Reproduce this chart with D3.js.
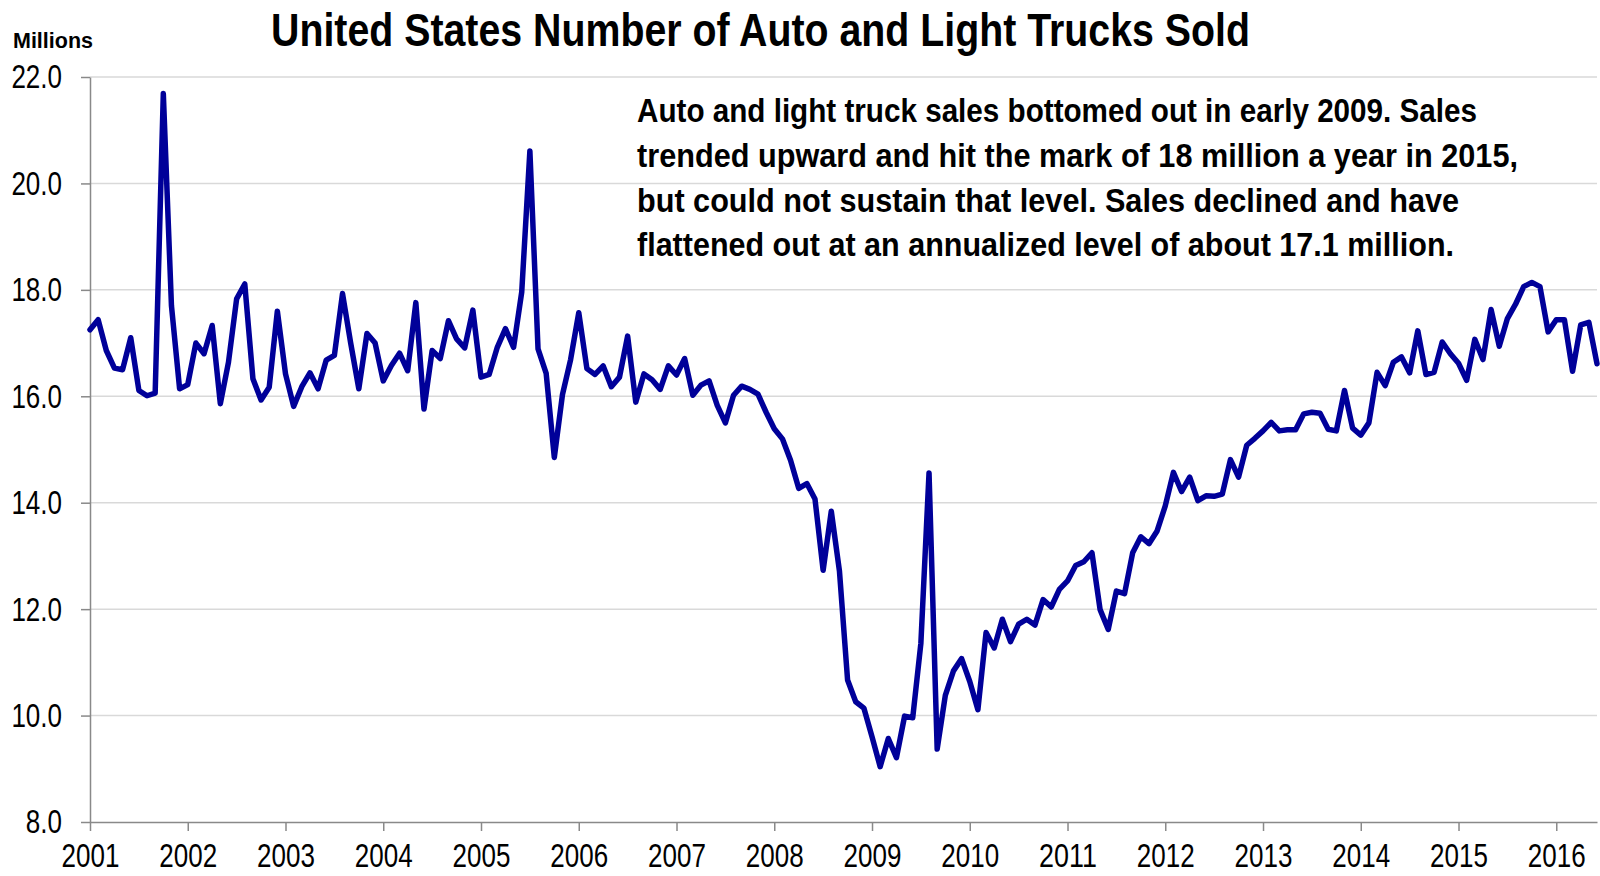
<!DOCTYPE html>
<html>
<head>
<meta charset="utf-8">
<script src="https://cdn.jsdelivr.net/npm/d3@7"></script>
<style>
  html, body { margin: 0; padding: 0; background: #fff; }
  svg { display: block; }
</style>
</head>
<body>
<svg id="chart" width="1600" height="876"></svg>
<script>
// ---- Data (millions of units, seasonally adjusted annual rate), monthly from Jan 2001 ----
const firstYear = 2001;
const firstMonth = 0; // January
const sales = [
  17.25, 17.44, 16.86, 16.53, 16.50, 17.10, 16.11, 16.01, 16.06, 21.69, 17.70, 16.14, // 2001
  16.22, 17.00, 16.80, 17.33, 15.86, 16.64, 17.83, 18.11, 16.33, 15.93, 16.17, 17.60, // 2002
  16.42, 15.81, 16.18, 16.44, 16.14, 16.68, 16.77, 17.93, 17.00, 16.14, 17.18, 17.00, // 2003
  16.29, 16.58, 16.81, 16.48, 17.76, 15.76, 16.86, 16.71, 17.42, 17.08, 16.91, 17.62, // 2004
  16.36, 16.41, 16.92, 17.27, 16.92, 17.96, 20.61, 16.89, 16.43, 14.85, 16.03, 16.69, // 2005
  17.57, 16.52, 16.41, 16.57, 16.18, 16.36, 17.13, 15.89, 16.42, 16.31, 16.13, 16.57, // 2006
  16.40, 16.71, 16.02, 16.21, 16.29, 15.83, 15.50, 16.02, 16.19, 16.13, 16.04, 15.70, // 2007
  15.39, 15.20, 14.80, 14.27, 14.36, 14.07, 12.73, 13.84, 12.72, 10.67, 10.26, 10.14, // 2008
   9.60,  9.04,  9.57,  9.21,  9.99,  9.96, 11.36, 14.56,  9.37, 10.38, 10.84, 11.07, // 2009
  10.64, 10.11, 11.56, 11.27, 11.81, 11.39, 11.72, 11.81, 11.70, 12.18, 12.04, 12.37, // 2010
  12.53, 12.82, 12.89, 13.06, 11.99, 11.62, 12.34, 12.29, 13.06, 13.36, 13.23, 13.47, // 2011
  13.94, 14.57, 14.21, 14.48, 14.04, 14.13, 14.12, 14.16, 14.81, 14.48, 15.08, 15.21, // 2012
  15.35, 15.51, 15.35, 15.37, 15.37, 15.67, 15.70, 15.68, 15.38, 15.35, 16.11, 15.40, // 2013
  15.27, 15.50, 16.45, 16.20, 16.64, 16.74, 16.44, 17.23, 16.41, 16.45, 17.02, 16.80, // 2014
  16.62, 16.30, 17.07, 16.69, 17.63, 16.94, 17.46, 17.73, 18.06, 18.14, 18.06, 17.21, // 2015
  17.44, 17.44, 16.47, 17.34, 17.39, 16.61                                            // 2016
];
const yTicks = [8, 10, 12, 14, 16, 18, 20, 22];
const xTickYears = [2001, 2002, 2003, 2004, 2005, 2006, 2007, 2008, 2009, 2010, 2011, 2012, 2013, 2014, 2015, 2016];
const titleText = "United States Number of Auto and Light Trucks Sold";
const unitLabel = "Millions";
const noteLines = [
  "Auto and light truck sales bottomed out in early 2009. Sales",
  "trended upward and hit the mark of 18 million a year in 2015,",
  "but could not sustain that level. Sales declined and have",
  "flattened out at an annualized level of about 17.1 million."
];

(function () {
  // ---- Layout ----
  const svg = d3.select("#chart");
  const plotL = 90, plotR = 1597, plotT = 77, plotB = 822;
  const FONT = "'Liberation Sans Narrow', 'Arial Narrow', 'Liberation Sans', Arial, sans-serif";
  const TICK_FS = 34;
  // condensed width of a numeric label (digits 0.556em, '.' 0.278em)
  const narrowWidth = s => 26 * s.split("").reduce((a, c) => a + (c === "." ? 0.278 : 0.556), 0);

  const points = sales.map((v, i) => ({ t: firstYear + (firstMonth + i) / 12, v }));

  const x = d3.scaleLinear()
    .domain([firstYear, points[points.length - 1].t])
    .range([plotL, plotR]);
  const y = d3.scaleLinear().domain([8, 22]).range([plotB, plotT]);

  // Gridlines
  svg.append("g")
    .selectAll("line")
    .data(yTicks.filter(d => d !== 8))
    .join("line")
    .attr("x1", plotL).attr("x2", plotR)
    .attr("y1", d => y(d)).attr("y2", d => y(d))
    .attr("stroke", "#d9d9d9").attr("stroke-width", 1.5);

  // Y axis
  const yFmt = d3.format(".1f");
  const yAxis = d3.axisLeft(y).tickValues(yTicks).tickFormat(yFmt).tickSize(9).tickSizeOuter(0).tickPadding(19);
  const gy = svg.append("g").attr("transform", `translate(${plotL},0)`).call(yAxis);
  gy.select(".domain").attr("stroke", "#898989").attr("stroke-width", 1.5);
  gy.selectAll(".tick line").attr("stroke", "#898989").attr("stroke-width", 1.5);
  gy.selectAll(".tick text")
    .attr("font-family", FONT).attr("font-size", TICK_FS).attr("fill", "#000")
    .attr("textLength", d => narrowWidth(yFmt(d))).attr("lengthAdjust", "spacingAndGlyphs");

  // X axis
  const xFmt = d3.format("d");
  const xAxis = d3.axisBottom(x).tickValues(xTickYears).tickFormat(xFmt).tickSize(9).tickSizeOuter(0).tickPadding(12);
  const gx = svg.append("g").attr("transform", `translate(0,${plotB})`).call(xAxis);
  gx.select(".domain").attr("stroke", "#898989").attr("stroke-width", 1.5);
  gx.selectAll(".tick line").attr("stroke", "#898989").attr("stroke-width", 1.5);
  gx.selectAll(".tick text")
    .attr("font-family", FONT).attr("font-size", TICK_FS).attr("fill", "#000")
    .attr("textLength", d => narrowWidth(xFmt(d))).attr("lengthAdjust", "spacingAndGlyphs");

  // Line
  const line = d3.line().x(d => x(d.t)).y(d => y(d.v));
  svg.append("path")
    .datum(points)
    .attr("d", line)
    .attr("fill", "none")
    .attr("stroke", "#000099")
    .attr("stroke-width", 5.5)
    .attr("stroke-linejoin", "round")
    .attr("stroke-linecap", "round");

  // Title
  svg.append("text")
    .attr("x", 271).attr("y", 46)
    .attr("font-family", FONT).attr("font-weight", "bold").attr("font-size", 47)
    .attr("textLength", 979).attr("lengthAdjust", "spacingAndGlyphs")
    .attr("fill", "#000")
    .text(titleText);

  // Unit label
  svg.append("text")
    .attr("x", 13).attr("y", 48)
    .attr("font-family", FONT).attr("font-weight", "bold").attr("font-size", 22)
    .attr("textLength", 80).attr("lengthAdjust", "spacingAndGlyphs")
    .attr("fill", "#000")
    .text(unitLabel);

  // Annotation
  const noteWidths = [840, 881, 822, 817];
  const noteBase = [122, 167, 211.5, 256];
  svg.append("g").selectAll("text")
    .data(noteLines)
    .join("text")
    .attr("x", 637)
    .attr("y", (d, i) => noteBase[i])
    .attr("font-family", FONT).attr("font-weight", "bold").attr("font-size", 32.5)
    .attr("textLength", (d, i) => noteWidths[i]).attr("lengthAdjust", "spacingAndGlyphs")
    .attr("fill", "#000")
    .text(d => d);
})();
</script>
</body>
</html>
